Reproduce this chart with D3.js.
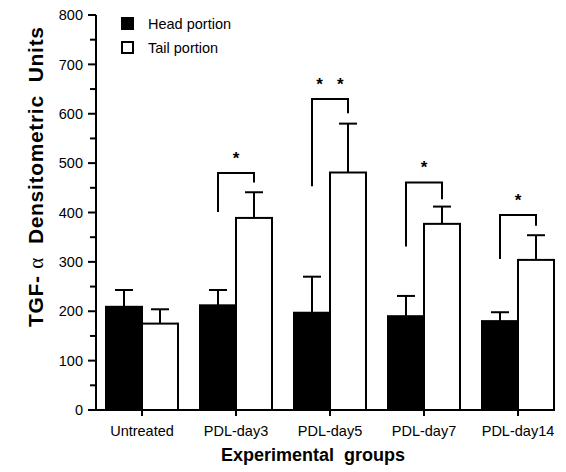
<!DOCTYPE html>
<html><head><meta charset="utf-8">
<script src="https://cdn.jsdelivr.net/npm/d3@7"></script>
<style>body{margin:0;background:#fff}svg{display:block}text{font-family:"Liberation Sans",Arial,Helvetica,sans-serif;fill:#000}</style>
</head><body><svg id="c" width="566" height="472"></svg>
<script>
const categories = ["Untreated", "PDL-day3", "PDL-day5", "PDL-day7", "PDL-day14"];
const seriesNames = ["Head portion", "Tail portion"];
const headValues = [209, 212, 197, 190, 180];
const headErrors = [34, 31, 73, 41, 18];
const tailValues = [175, 389, 481, 377, 304];
const tailErrors = [29, 52, 99, 35, 50];
const yTicks = [0, 100, 200, 300, 400, 500, 600, 700, 800];
const yMinorTicks = [50, 150, 250, 350, 450, 550, 650, 750];
const sigGroups = ["PDL-day3", "PDL-day5", "PDL-day7", "PDL-day14"];
const sigLeftBottom = [401, 453, 331, 306];
const sigTop = [480, 630, 461, 395];
const sigRightBottom = [461, 601, 427, 373];
const sigLabels = ["*", "*   *", "*", "*"];

const svg = d3.select("#c");
const y = d3.scaleLinear().domain([0, 800]).range([410, 15]);
const x = d3.scaleBand().domain(categories).range([95, 565]).paddingInner(22/94).paddingOuter(11/94);
const xs = d3.scaleBand().domain(seriesNames).range([0, x.bandwidth()]);
const fills = ["#000", "#fff"];

const data = [];
categories.forEach((c, i) => {
  data.push({c, s: seriesNames[0], v: headValues[i], e: headErrors[i]});
  data.push({c, s: seriesNames[1], v: tailValues[i], e: tailErrors[i]});
});

// error bars (behind bars)
const eb = svg.append("g").attr("stroke", "#000").attr("stroke-width", 2);
data.forEach(d => {
  const cx = x(d.c) + xs(d.s) + xs.bandwidth() / 2;
  eb.append("line").attr("x1", cx).attr("x2", cx).attr("y1", y(d.v)).attr("y2", y(d.v + d.e));
  eb.append("line").attr("x1", cx - 9).attr("x2", cx + 9).attr("y1", y(d.v + d.e)).attr("y2", y(d.v + d.e));
});

// bars
svg.append("g").selectAll("rect").data(data).join("rect")
  .attr("x", d => x(d.c) + xs(d.s))
  .attr("y", d => y(d.v))
  .attr("width", xs.bandwidth())
  .attr("height", d => y(0) - y(d.v))
  .attr("fill", d => fills[seriesNames.indexOf(d.s)])
  .attr("stroke", "#000").attr("stroke-width", 2);

// significance brackets
const br = svg.append("g").attr("fill", "none").attr("stroke", "#000").attr("stroke-width", 2);
sigGroups.forEach((g, i) => {
  const lx = x(g) + xs(seriesNames[0]) + xs.bandwidth() / 2;
  const rx = x(g) + xs(seriesNames[1]) + xs.bandwidth() / 2;
  br.append("path").attr("d", `M${lx},${y(sigTop[i]) + 0}V${y(sigTop[i])}`);
  br.append("path").attr("d", `M${lx},${y(sigLeftBottom[i])}V${y(sigTop[i])}H${rx}V${y(sigRightBottom[i])}`);
  svg.append("text").attr("x", (lx + rx) / 2).attr("y", y(sigTop[i]) - 9)
    .attr("text-anchor", "middle").attr("font-size", 17).attr("font-weight", "bold").style("white-space", "pre")
    .text(sigLabels[i]);
});

// y axis
const yAxis = svg.append("g").attr("transform", "translate(96,0)");
yAxis.append("line").attr("x1", 0).attr("x2", 0).attr("y1", y(800)).attr("y2", y(0)).attr("stroke", "#000").attr("stroke-width", 2);
yAxis.selectAll(".maj").data(yTicks).join("line").attr("x1", -8).attr("x2", 0)
  .attr("y1", d => y(d)).attr("y2", d => y(d)).attr("stroke", "#000").attr("stroke-width", 2);
yAxis.selectAll(".min").data(yMinorTicks).join("line").attr("class", "min").attr("x1", -6).attr("x2", 0)
  .attr("y1", d => y(d)).attr("y2", d => y(d)).attr("stroke", "#000").attr("stroke-width", 2);
yAxis.selectAll("text").data(yTicks).join("text").attr("x", -13).attr("y", d => y(d)).attr("dy", "0.36em")
  .attr("text-anchor", "end").attr("font-size", 14.5).text(d => d);

// x axis
const xAxis = svg.append("g");
xAxis.append("line").attr("x1", 95).attr("x2", 555).attr("y1", y(0)).attr("y2", y(0)).attr("stroke", "#000").attr("stroke-width", 2);
xAxis.selectAll(".tk").data(categories).join("line").attr("class", "tk")
  .attr("x1", d => x(d) + x.bandwidth() / 2).attr("x2", d => x(d) + x.bandwidth() / 2)
  .attr("y1", y(0)).attr("y2", y(0) + 6).attr("stroke", "#000").attr("stroke-width", 2);
xAxis.selectAll("text").data(categories).join("text")
  .attr("x", d => x(d) + x.bandwidth() / 2).attr("y", 436)
  .attr("text-anchor", "middle").attr("font-size", 14.5).text(d => d);

// titles
svg.append("text").attr("x", 313).attr("y", 461).attr("text-anchor", "middle")
  .attr("font-size", 18).attr("font-weight", "bold").style("white-space", "pre")
  .text("Experimental  groups");
const yt = svg.append("text").attr("transform", "translate(43,177) rotate(-90)").attr("text-anchor", "middle")
  .attr("font-size", 21).attr("font-weight", "bold").style("white-space", "pre")
  .attr("textLength", 300).attr("lengthAdjust", "spacing");
yt.append("tspan").text("TGF- ");
yt.append("tspan").attr("font-family", "'Liberation Serif','DejaVu Serif',serif").attr("font-weight", "normal").text("α");
yt.append("tspan").text("  Densitometric  Units");

// legend
const lg = svg.append("g");
seriesNames.forEach((s, i) => {
  lg.append("rect").attr("x", 122).attr("y", 18 + i * 24).attr("width", 11).attr("height", 11)
    .attr("fill", fills[i]).attr("stroke", "#000").attr("stroke-width", 2);
  lg.append("text").attr("x", 148).attr("y", 28.5 + i * 24).attr("font-size", 14.5).text(s);
});
</script></body></html>
